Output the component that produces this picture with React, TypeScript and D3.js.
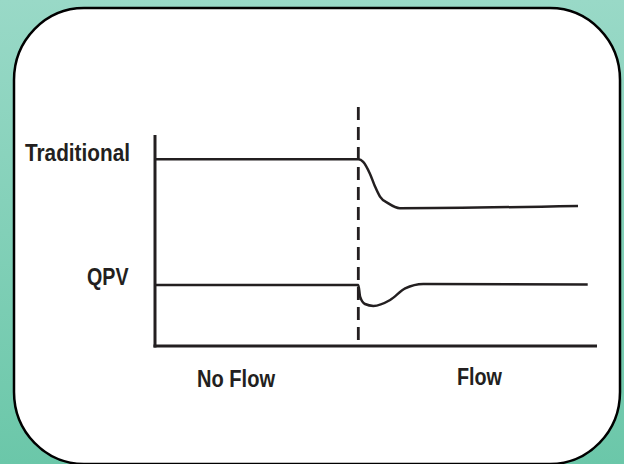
import React from "react";
import * as d3 from "d3";

// time (0-100) and response level (0-100)
const flowStart = 46.0;
const traditionalT = [0, 46.0, 47.1, 48.6, 49.8, 50.9, 52.8, 55.4, 95.7];
const traditionalV = [88.5, 88.5, 87.3, 81.8, 75.5, 70.8, 67.6, 65.3, 66.4];
const qpvT = [0, 46.0, 46.4, 47.5, 49.4, 53.2, 56.6, 60.7, 97.9];
const qpvV = [28.9, 28.9, 23.4, 19.9, 19.0, 21.8, 27.3, 29.4, 29.2];
const seriesLabels = ["Traditional", "QPV"];
const phaseLabels = ["No Flow", "Flow"];

const W = 624;
const H = 464;

export default function App() {
  const x = d3.scaleLinear().domain([0, 100]).range([155, 597]);
  const y = d3.scaleLinear().domain([0, 100]).range([346, 135]);
  const line = d3
    .line<[number, number]>()
    .x((d) => x(d[0]))
    .y((d) => y(d[1]))
    .curve(d3.curveMonotoneX);
  const trad = line(traditionalT.map((t, i) => [t, traditionalV[i]]) as [number, number][]) || "";
  const qpv = line(qpvT.map((t, i) => [t, qpvV[i]]) as [number, number][]) || "";
  const ink = "#231f20";
  const font = "'Liberation Sans', Arial, sans-serif";

  return (
    <svg
      width={W}
      height={H}
      style={{ position: "absolute", left: 0, top: 0 }}
      xmlns="http://www.w3.org/2000/svg"
    >
      <defs>
        <linearGradient id="bg" x1="0" y1="0" x2="0" y2="1">
          <stop offset="0" stopColor="#99d9c7" />
          <stop offset="1" stopColor="#6bc7a9" />
        </linearGradient>
      </defs>
      <rect x={0} y={0} width={W} height={H} fill="url(#bg)" />
      <rect x={14} y={8} width={606} height={456} rx={70} ry={72} fill="#ffffff" stroke="#000" strokeWidth={2.5} />

      {/* axes */}
      <line x1={x(0)} x2={x(0)} y1={y(100)} y2={y(0) + 1.5} stroke={ink} strokeWidth={3} />
      <line x1={x(0) - 1.5} x2={x(100)} y1={y(0)} y2={y(0)} stroke={ink} strokeWidth={3} />

      {/* flow start marker */}
      <line
        x1={x(flowStart)}
        x2={x(flowStart)}
        y1={y(113.3)}
        y2={y(2.8)}
        stroke={ink}
        strokeWidth={2.8}
        strokeDasharray="13 7"
      />

      <path d={trad} fill="none" stroke={ink} strokeWidth={2.5} />
      <path d={qpv} fill="none" stroke={ink} strokeWidth={2.5} />

      <g fontFamily={font} fontWeight="bold" fontSize={23} fill={ink}>
        <text x={25} y={161} textLength={105} lengthAdjust="spacingAndGlyphs">
          {seriesLabels[0]}
        </text>
        <text x={87} y={285} textLength={41.5} lengthAdjust="spacingAndGlyphs">
          {seriesLabels[1]}
        </text>
        <text x={197} y={387} textLength={78} lengthAdjust="spacingAndGlyphs">
          {phaseLabels[0]}
        </text>
        <text x={457} y={385} textLength={45} lengthAdjust="spacingAndGlyphs">
          {phaseLabels[1]}
        </text>
      </g>
    </svg>
  );
}
